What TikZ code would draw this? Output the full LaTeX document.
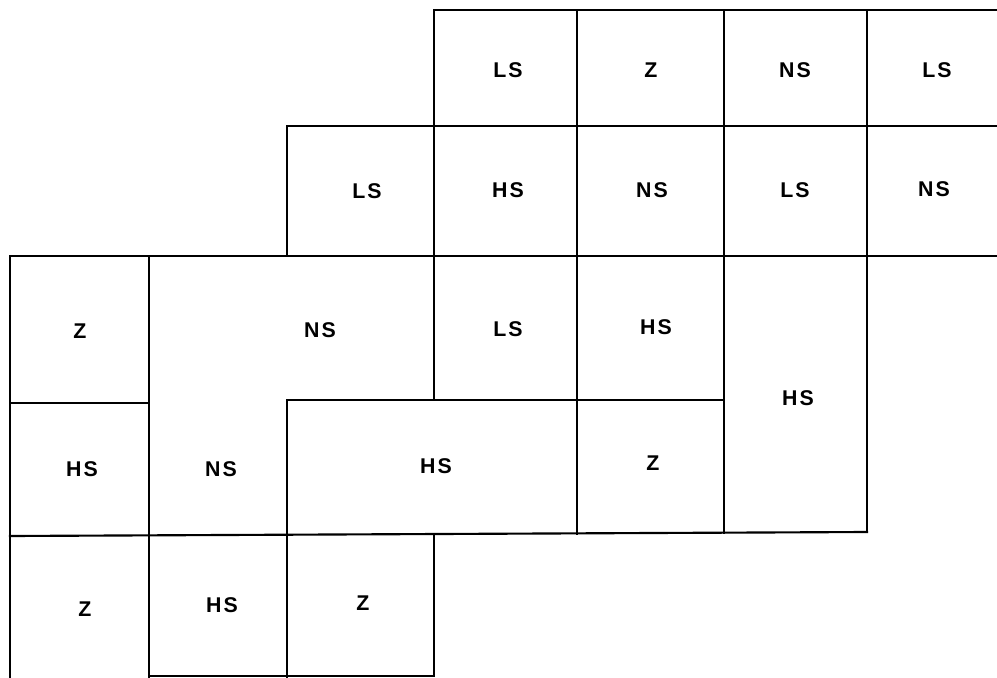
\documentclass[tikz,border=0pt]{standalone}
\usepackage{fontspec}
\setmainfont{Liberation Sans}[LetterSpace=10]
\begin{document}
\begin{tikzpicture}[x=0.75pt,y=-0.75pt,
  grid/.style={line width=1.6pt,black,line cap=rect},
  lbl/.style={font=\fontsize{16}{18}\selectfont\bfseries,inner sep=0pt,anchor=center}]
\useasboundingbox (0,0) rectangle (997,678);
% horizontal lines
\draw[grid] (434,10) -- (997,10);
\draw[grid] (287,126) -- (997,126);
\draw[grid] (10,256) -- (997,256);
\draw[grid] (10,403) -- (149,403);
\draw[grid] (287,400) -- (724,400);
\draw[grid] (10,536) -- (867,532);
\draw[line width=0.9pt] (149,676) -- (434,676);
% vertical lines
\draw[grid] (10,256) -- (10,678);
\draw[grid] (149,256) -- (149,678);
\draw[grid] (287,126) -- (287,256);
\draw[grid] (287,400) -- (287,678);
\draw[grid] (434,10) -- (434,400);
\draw[grid] (434,535) -- (434,676);
\draw[grid] (577,10) -- (577,534);
\draw[grid] (724,10) -- (724,533);
\draw[grid] (867,10) -- (867,532);
% labels row 1
\node[lbl] (r1a) at (508,70) {LS};
\node[lbl] (r1b) at (651,70) {Z};
\node[lbl] (r1c) at (795,70) {NS};
\node[lbl] (r1d) at (937,70) {LS};
% row 2
\node[lbl] (r2a) at (367,191) {LS};
\node[lbl] (r2b) at (508,190) {HS};
\node[lbl] (r2c) at (652,190) {NS};
\node[lbl] (r2d) at (795,190) {LS};
\node[lbl] (r2e) at (934,189) {NS};
% row 3
\node[lbl] (r3a) at (80,331) {Z};
\node[lbl] (r3b) at (320,330) {NS};
\node[lbl] (r3c) at (508,329) {LS};
\node[lbl] (r3d) at (656,327) {HS};
\node[lbl] (big) at (798,398) {HS};
% row 4
\node[lbl] (r4a) at (82,469) {HS};
\node[lbl] (r4b) at (221,469) {NS};
\node[lbl] (r4c) at (436,466) {HS};
\node[lbl] (r4d) at (653,463) {Z};
% row 5
\node[lbl] (r5a) at (85,609) {Z};
\node[lbl] (r5b) at (222,605) {HS};
\node[lbl] (r5c) at (363,603) {Z};
\end{tikzpicture}
\end{document}
